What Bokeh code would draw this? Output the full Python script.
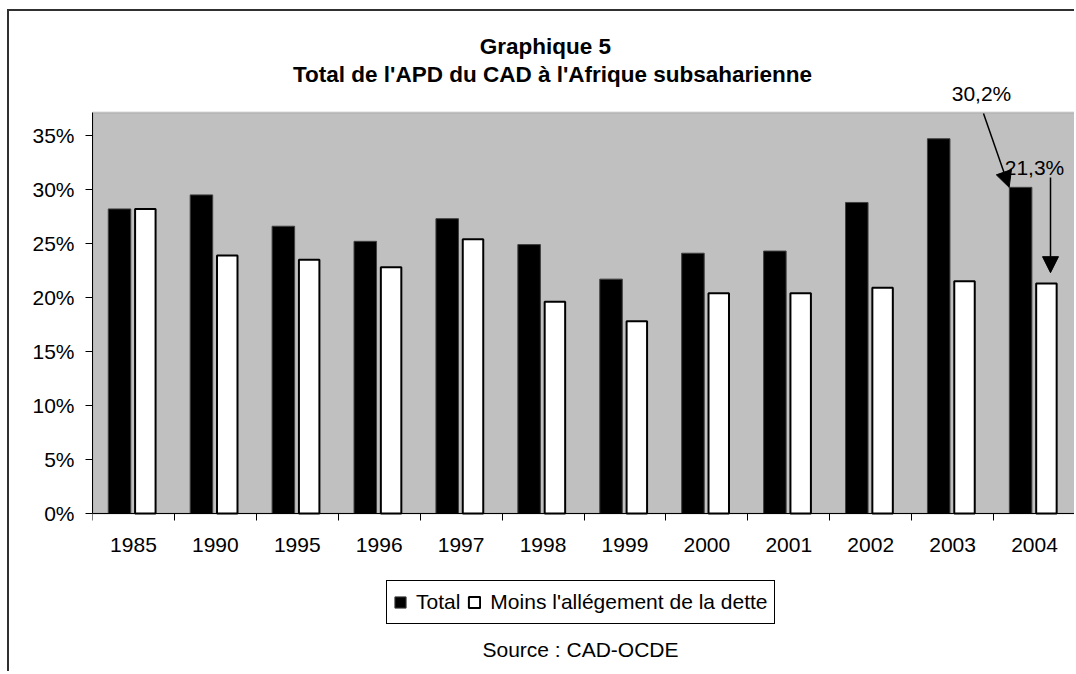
from bokeh.plotting import figure
from bokeh.models import (Range1d, FixedTicker, NumeralTickFormatter, Label, Legend,
                          LegendItem, Arrow, NormalHead, ColumnDataSource, BoxAnnotation)
from bokeh.transform import dodge
from bokeh.embed import file_html
from bokeh.resources import INLINE

# ---- data ----
years = ["1985", "1990", "1995", "1996", "1997", "1998", "1999", "2000", "2001", "2002", "2003", "2004"]
total = [0.282, 0.295, 0.266, 0.252, 0.273, 0.249, 0.217, 0.241, 0.243, 0.288, 0.347, 0.302]
moins = [0.282, 0.239, 0.235, 0.228, 0.254, 0.196, 0.178, 0.204, 0.204, 0.209, 0.215, 0.213]
y_ticks = [0.0, 0.05, 0.10, 0.15, 0.20, 0.25, 0.30, 0.35]
title_lines = ["Graphique  5", "Total de l'APD du CAD à l'Afrique subsaharienne"]
legend_labels = ["Total", "Moins l'allégement de la dette"]
note_total = "30,2%"
note_moins = "21,3%"
source_text = "Source : CAD-OCDE"

FONT = "Liberation Sans"

# ---- layout constants (page pixels) ----
OX, OY = 9, 11            # canvas origin on the page (margin + border)
W, H = 1067, 662
FRAME_L, FRAME_R = 92, 1075
ZERO_Y = 513              # page y of the 0% line
PPU = 1080.0              # pixels per unit (100%)
YMAX = (ZERO_Y - 112) / PPU   # top of the grey plot area


def ydata(page_y):
    return (ZERO_Y - page_y) / PPU


def xdata(page_x):
    return (page_x - FRAME_L) / ((FRAME_R - FRAME_L) / len(years))


p = figure(width=W, height=H, output_backend="svg", toolbar_location=None,
           x_range=Range1d(0, len(years)),
           y_range=Range1d(ydata(OY + H), ydata(OY)),
           min_border_left=FRAME_L - OX, min_border_right=W - (FRAME_R - OX),
           min_border_top=0, min_border_bottom=0)
p.title.visible = False
p.styles = {"margin-left": "7px", "margin-top": "9px",
            "border-left": "2px solid #303030", "border-top": "2px solid #303030"}

p.background_fill_color = "white"
p.border_fill_color = "white"
p.outline_line_color = None
p.xgrid.visible = False
p.ygrid.visible = False

# grey plot area
p.add_layout(BoxAnnotation(left=0, right=len(years), bottom=0, top=YMAX,
                           fill_color="#C0C0C0", fill_alpha=1,
                           line_color="#808080", line_width=2, level="underlay"))

xs = [i + 0.5 for i in range(len(years))]
src = ColumnDataSource(dict(x=xs, total=total, moins=moins, year=years))

r1 = p.vbar(x=dodge('x', -0.17, range=p.x_range), top='total', width=0.275, source=src,
            fill_color="black", line_color="#404040", line_width=1)
r2 = p.vbar(x=dodge('x', 0.145, range=p.x_range), top='moins', width=0.25, source=src,
            fill_color="white", line_color="black", line_width=2)

# y axis
ya = p.yaxis[0]
ya.ticker = FixedTicker(ticks=y_ticks)
ya.formatter = NumeralTickFormatter(format="0%")
ya.bounds = (0, YMAX)
ya.major_tick_out = 7
ya.major_tick_in = 0
ya.minor_tick_out = 0
ya.minor_tick_in = 0
ya.axis_line_color = "black"
ya.major_tick_line_color = "black"
ya.major_label_text_font = FONT
ya.major_label_text_font_size = "21px"
ya.major_label_text_color = "black"
ya.major_label_standoff = 11

# x axis: labels at centres, ticks at category boundaries, drawn at 0%
xa = p.xaxis[0]
xa.fixed_location = 0
xa.ticker = FixedTicker(ticks=xs, minor_ticks=list(range(len(years) + 1)))
xa.major_label_overrides = {x: y for x, y in zip(xs, years)}
xa.major_tick_out = 0
xa.major_tick_in = 0
xa.minor_tick_out = 7
xa.minor_tick_in = 0
xa.minor_tick_line_color = "black"
xa.axis_line_color = "black"
xa.major_label_text_font = FONT
xa.major_label_text_font_size = "21px"
xa.major_label_text_color = "black"
xa.major_label_standoff = 17

# legend (inside the extended frame)
legend = Legend(items=[LegendItem(label=legend_labels[0], renderers=[r1]),
                       LegendItem(label=legend_labels[1], renderers=[r2])],
                orientation="horizontal", location=(386 - FRAME_L, (OY + H) - 624), margin=0,
                padding=6, spacing=7, glyph_width=14, glyph_height=14,
                label_standoff=9, label_height=30,
                label_text_font=FONT, label_text_font_size="21px", label_text_color="black",
                border_line_color="black", border_line_width=1, border_line_alpha=1,
                background_fill_color="white", background_fill_alpha=1)
p.add_layout(legend)


def lbl(x, y, text, bold=False, size="21px"):
    p.add_layout(Label(x=x, y=y, text=text, text_align="center", text_baseline="middle",
                       text_font=FONT, text_font_size=size, text_color="black",
                       text_font_style="bold" if bold else "normal"))


lbl(xdata(548), ydata(46), title_lines[0], bold=True, size="22.5px")
lbl(xdata(552), ydata(74), title_lines[1], bold=True, size="22.5px")
lbl(xdata(580), ydata(649), source_text)
lbl(xdata(981), ydata(93), note_total)
lbl(xdata(1034), ydata(167), note_moins)

# arrows
p.add_layout(Arrow(end=NormalHead(size=16, fill_color="black", line_color="black"),
                   x_start=xdata(983), y_start=ydata(113), x_end=11.19, y_end=total[-1],
                   line_color="black", line_width=1.5))
p.add_layout(Arrow(end=NormalHead(size=16, fill_color="black", line_color="black"),
                   x_start=xdata(1050), y_start=ydata(177), x_end=xdata(1050), y_end=moins[-1] + 0.01,
                   line_color="black", line_width=1.5))

open("out.html", "w").write(file_html(p, INLINE))
